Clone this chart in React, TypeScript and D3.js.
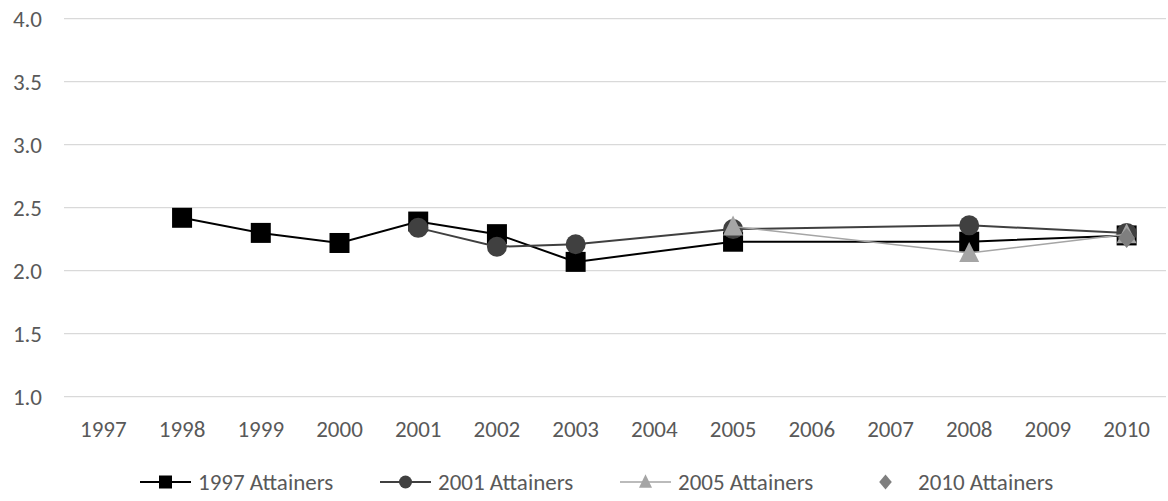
import React from "react";
import * as d3 from "d3";

const years = ["1997","1998","1999","2000","2001","2002","2003","2004","2005","2006","2007","2008","2009","2010"];
const yTicks = [1.0, 1.5, 2.0, 2.5, 3.0, 3.5, 4.0];

const attainers1997: [string, number][] = [
  ["1998", 2.42], ["1999", 2.30], ["2000", 2.22], ["2001", 2.39], ["2002", 2.29],
  ["2003", 2.07], ["2005", 2.23], ["2008", 2.23], ["2010", 2.28],
];
const attainers2001: [string, number][] = [
  ["2001", 2.34], ["2002", 2.19], ["2003", 2.21], ["2005", 2.33], ["2008", 2.36], ["2010", 2.30],
];
const attainers2005: [string, number][] = [
  ["2005", 2.35], ["2008", 2.14], ["2010", 2.29],
];
const attainers2010: [string, number][] = [["2010", 2.26]];

type Shape = "square" | "circle" | "triangle" | "diamond";
const seriesNames = ["1997 Attainers", "2001 Attainers", "2005 Attainers", "2010 Attainers"];
const seriesData = [attainers1997, attainers2001, attainers2005, attainers2010];
const seriesColors = ["#000000", "#404040", "#a5a5a5", "#7f7f7f"];
const seriesShapes: Shape[] = ["square", "circle", "triangle", "diamond"];
const seriesLineWidths = [2, 2, 1.5, 0];

const W = 1168, H = 501;
const plot = { left: 64, right: 1166, top: 18.7, bottom: 396.7 };
const FONT = "Carlito, Calibri, 'Open Sans', 'Liberation Sans', sans-serif";
const FS = 23;

function Marker({ shape, x, y, color, s }: { shape: Shape; x: number; y: number; color: string; s: number }) {
  if (shape === "square") return <rect x={x - s / 2} y={y - s / 2} width={s} height={s} fill={color} />;
  if (shape === "circle") return <circle cx={x} cy={y} r={s / 2} fill={color} />;
  if (shape === "triangle") {
    const h = s * 0.9;
    return <path d={`M${x},${y - h / 2 - 2}L${x + s / 2},${y + h / 2}L${x - s / 2},${y + h / 2}Z`} fill={color} />;
  }
  return <path d={`M${x},${y - s / 2}L${x + s * 0.42},${y}L${x},${y + s / 2}L${x - s * 0.42},${y}Z`} fill={color} />;
}

export default function App() {
  const x = d3.scaleBand<string>().domain(years).range([plot.left, plot.right]);
  const y = d3.scaleLinear().domain([1, 4]).range([plot.bottom, plot.top]);
  const cx = (k: string) => (x(k) as number) + x.bandwidth() / 2;
  const line = d3.line<[string, number]>().x((d) => cx(d[0])).y((d) => y(d[1]));

  // legend text start positions
  const legendText = [198, 438, 678, 918];
  const legendY = 482;

  return (
    <svg width={W} height={H} style={{ position: "absolute", left: 0, top: 0, background: "#fff" }}>
      {yTicks.map((t) => (
        <g key={t}>
          <line x1={plot.left} x2={plot.right} y1={y(t)} y2={y(t)} stroke="#d9d9d9" strokeWidth={1.3} />
          <text x={42} y={y(t)} dy="0.35em" textAnchor="end" fontSize={FS} fill="#595959" fontFamily={FONT}>
            {d3.format(".1f")(t)}
          </text>
        </g>
      ))}
      {years.map((yr) => (
        <text key={yr} x={cx(yr)} y={429} dy="0.35em" textAnchor="middle" fontSize={FS} fill="#595959" fontFamily={FONT}>
          {yr}
        </text>
      ))}
      {seriesData.map((data, i) => (
        <g key={seriesNames[i]}>
          {seriesLineWidths[i] > 0 && (
            <path d={line(data) || ""} fill="none" stroke={seriesColors[i]} strokeWidth={seriesLineWidths[i]} />
          )}
          {data.map((d) => (
            <Marker key={d[0]} shape={seriesShapes[i]} x={cx(d[0])} y={y(d[1])} color={seriesColors[i]} s={20} />
          ))}
        </g>
      ))}
      {seriesNames.map((name, i) => {
        const tx = legendText[i];
        return (
          <g key={name}>
            {seriesLineWidths[i] > 0 && (
              <line x1={tx - 58} x2={tx - 7} y1={legendY} y2={legendY} stroke={seriesColors[i]} strokeWidth={seriesLineWidths[i]} />
            )}
            <Marker shape={seriesShapes[i]} x={tx - 32.5} y={legendY} color={seriesColors[i]} s={seriesShapes[i] === "diamond" ? 15 : 13} />
            <text x={tx} y={legendY} dy="0.35em" fontSize={FS} fill="#595959" fontFamily={FONT}>
              {name}
            </text>
          </g>
        );
      })}
    </svg>
  );
}
